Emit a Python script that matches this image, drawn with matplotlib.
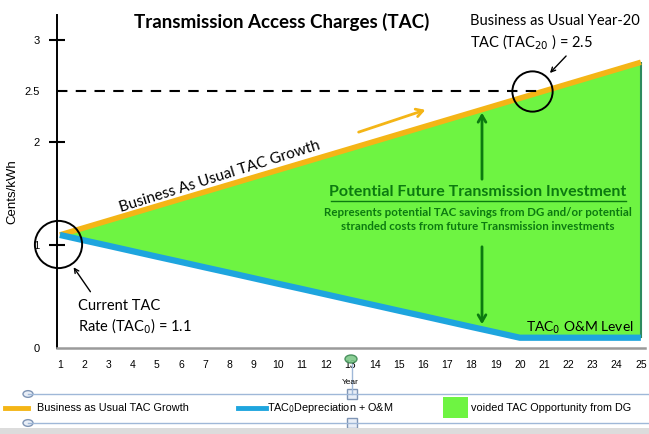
import numpy as np
import matplotlib
matplotlib.use("Agg")
import matplotlib.pyplot as plt
from matplotlib.patches import Rectangle, Circle

plt.rcParams.update({
    "font.family": "Liberation Sans",
    "font.size": 8,
})

W, H = 649, 434

# ── data ─────────────────────────────────────────────────────────────────────
years = list(range(1, 26))
bau_growth = [1.10, 1.17, 1.24, 1.31, 1.38, 1.45, 1.52, 1.59, 1.66, 1.73,
              1.80, 1.87, 1.94, 2.01, 2.08, 2.15, 2.22, 2.29, 2.36, 2.43,
              2.50, 2.57, 2.64, 2.71, 2.78]
depreciation = [1.100, 1.047, 0.995, 0.942, 0.889, 0.837, 0.784, 0.732,
                0.679, 0.626, 0.574, 0.521, 0.468, 0.416, 0.363, 0.311,
                0.258, 0.205, 0.153, 0.100, 0.100, 0.100, 0.100, 0.100, 0.100]
y_ticks = [0, 1, 2, 2.5, 3]
y_tick_labels = ["0", "1", "2", "2.5", "3"]
tac_20 = 2.5

YELLOW = "#F4B516"
BLUE = "#1EA5DE"
GREEN = "#6EF442"
DKGREEN = "#0C7A10"
CAL = "Lato"


def fp(x, y):
    # image pixel (top-left origin) -> figure pixels
    return (x, H - y)


fig = plt.figure(figsize=(W / 100, H / 100), dpi=100)
ax = fig.add_axes([57 / W, (H - 348) / H, (645 - 57) / W, (348 - 15) / H])

ax.fill_between(years, depreciation, bau_growth, color=GREEN, lw=0, zorder=1)
ax.vlines(years[-1], depreciation[-1], bau_growth[-1], color="#2E8A5E", lw=1.5, zorder=2)
ax.plot(years, bau_growth, color=YELLOW, lw=4, solid_capstyle="butt", zorder=3)
ax.plot(years, depreciation, color=BLUE, lw=4.5, solid_capstyle="butt", zorder=3)

ax.set_xlim(0.88, 25.17)
ax.set_ylim(0, 3.24)

ax.hlines(tac_20, 0.88, 21.0, color="black", lw=1.5, linestyles=(0, (5, 4)), zorder=4)

for s in ["top", "right"]:
    ax.spines[s].set_visible(False)
ax.spines["left"].set_linewidth(1.4)
ax.spines["bottom"].set_color("#9a9a9a")
ax.spines["bottom"].set_linewidth(1.8)

ax.set_xticks(years)
ax.tick_params(axis="x", length=0, pad=9, labelsize=7.5)
ax.set_yticks(y_ticks)
ax.set_yticklabels(y_tick_labels)
ax.tick_params(axis="y", direction="inout", length=11, width=1.5, pad=7, labelsize=8)
ax.yaxis.get_major_ticks()[3].tick1line.set_visible(False)
ax.yaxis.get_major_ticks()[0].tick1line.set_visible(False)

ax.set_ylabel("Cents/kWh", fontsize=9.5)
ax.yaxis.set_label_coords((18 - 57) / (645 - 57), (348 - 192) / (348 - 15))

# circles
ax.plot(0.93, 1.01, marker="o", ms=34, mfc="none", mec="black", mew=1.4,
        clip_on=False, zorder=6)
ax.plot(20.5, tac_20, marker="o", ms=29, mfc="none", mec="black", mew=1.4,
        clip_on=False, zorder=6)

# title & annotations
fig.text(282 / W, 1 - 22 / H, "Transmission Access Charges (TAC)", family=CAL,
         fontsize=13.5, fontweight="bold", ha="center", va="center")
fig.text(470 / W, 1 - 21 / H, "Business as Usual Year-20", family=CAL,
         fontsize=10.5, ha="left", va="center")
fig.text(470 / W, 1 - 42 / H, r"TAC (TAC$_{20}$ ) = 2.5", family=CAL,
         fontsize=10.5, ha="left", va="center")
ax.annotate("", xy=fp(548, 75), xycoords="figure pixels",
            xytext=fp(568, 54), textcoords="figure pixels",
            arrowprops=dict(arrowstyle="->", color="black", lw=1))

fig.text(78 / W, 1 - 306 / H, "Current TAC", family=CAL, fontsize=10.5,
         ha="left", va="center")
fig.text(78 / W, 1 - 326 / H, r"Rate (TAC$_0$) = 1.1", family=CAL, fontsize=10.5,
         ha="left", va="center")
ax.annotate("", xy=fp(72, 265), xycoords="figure pixels",
            xytext=fp(92, 294), textcoords="figure pixels",
            arrowprops=dict(arrowstyle="->", color="black", lw=1))

ax.text(7.7, 1.60, "Business As Usual TAC Growth", family=CAL, fontsize=11,
        rotation=17.5, rotation_mode="anchor", ha="center", va="bottom", zorder=5)

ax.annotate("", xy=fp(428, 109), xycoords="figure pixels",
            xytext=fp(356, 133), textcoords="figure pixels",
            arrowprops=dict(arrowstyle="->,head_length=0.6,head_width=0.35",
                            color=YELLOW, lw=2))

# green double arrows
ax.annotate("", xy=fp(482, 110), xycoords="figure pixels",
            xytext=fp(482, 182), textcoords="figure pixels",
            arrowprops=dict(arrowstyle="->,head_length=0.6,head_width=0.35",
                            color=DKGREEN, lw=2))
ax.annotate("", xy=fp(482, 327), xycoords="figure pixels",
            xytext=fp(482, 244), textcoords="figure pixels",
            arrowprops=dict(arrowstyle="->,head_length=0.6,head_width=0.35",
                            color=DKGREEN, lw=2))

fig.text(478 / W, 1 - 192 / H, "Potential Future Transmission Investment",
         family=CAL, fontsize=11.5, fontweight="bold", color=DKGREEN,
         ha="center", va="center")
fig.add_artist(plt.Line2D([331 / W, 626 / W], [1 - 201 / H, 1 - 201 / H],
                          color=DKGREEN, lw=1))
fig.text(478 / W, 1 - 212 / H,
         "Represents potential TAC savings from DG and/or potential",
         family=CAL, fontsize=8.3, fontweight="bold", color=DKGREEN,
         ha="center", va="center")
fig.text(478 / W, 1 - 227 / H,
         "stranded costs from future Transmission investments",
         family=CAL, fontsize=8.3, fontweight="bold", color=DKGREEN,
         ha="center", va="center")

fig.text(526 / W, 1 - 328 / H, r"TAC$_0$ O&M Level", family=CAL, fontsize=10,
         ha="left", va="center")

fig.text(350 / W, 1 - 383 / H, "Year", fontsize=6, ha="center", va="center")

# selection handles (slide artefacts)
sel = "#9fb8d8"
for yy in (394, 423):
    fig.add_artist(plt.Line2D([28 / W, 1.0], [1 - yy / H] * 2, color=sel, lw=1))
fig.add_artist(plt.Line2D([352 / W, 352 / W], [1 - 364 / H, 1 - 394 / H],
                          color=sel, lw=1))
for yy in (394, 423):
    fig.add_artist(Circle((28 / W, 1 - yy / H), 5 / W, transform=fig.transFigure,
                          fc="#e8eef7", ec="#7f95b5", lw=1))
    fig.add_artist(Rectangle(((352 - 5) / W, 1 - (yy + 5) / H), 10 / W, 10 / H,
                             transform=fig.transFigure, fc="#e8eef7",
                             ec="#7f95b5", lw=1))
fig.add_artist(Circle((351 / W, 1 - 359 / H), 6 / W, transform=fig.transFigure,
                      fc="#7ec98a", ec="#3f8a55", lw=1, alpha=0.9))
fig.add_artist(Rectangle((0, 0), 1, 6 / H, transform=fig.transFigure,
                         fc="#dcdcdc", ec="none"))

# legend (hand placed, as on the slide)
fig.add_artist(plt.Line2D([5 / W, 28 / W], [1 - 408 / H] * 2, color=YELLOW, lw=3.5))
fig.text(37 / W, 1 - 408 / H, "Business as Usual TAC Growth", fontsize=7.8,
         ha="left", va="center")
fig.add_artist(plt.Line2D([238 / W, 266 / W], [1 - 408 / H] * 2, color=BLUE, lw=3.5))
fig.text(267 / W, 1 - 408 / H, r"TAC$_0$Depreciation + O&M", fontsize=7.8,
         ha="left", va="center")
fig.add_artist(Rectangle((443 / W, 1 - 418 / H), 25 / W, 21 / H,
                         transform=fig.transFigure, fc=GREEN, ec="none"))
fig.text(471 / W, 1 - 408 / H, "voided TAC Opportunity from DG", fontsize=7.8,
         ha="left", va="center")

fig.savefig("out.png", dpi=100)
